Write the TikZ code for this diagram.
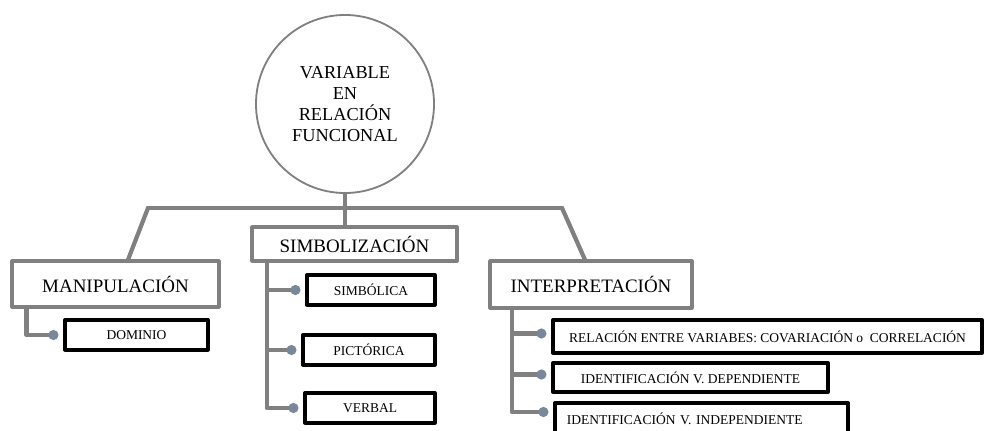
\documentclass[tikz,border=0pt]{standalone}
\usepackage{fontspec}
\setmainfont{Liberation Serif}
\usepackage{tikz}
\usetikzlibrary{arrows.meta,calc}
\definecolor{wqwqwq}{rgb}{0.5,0.5,0.5}
\definecolor{azgris}{rgb}{0.47,0.53,0.6}
\begin{document}
\begin{tikzpicture}[line cap=round,line join=round,x=0.025cm,y=-0.025cm,
	raiz/.style={circle,draw=wqwqwq,line width=1.3pt,minimum size=4.45cm,align=center,inner sep=0pt,font=\fontsize{13}{15}\selectfont},
	grupo/.style={rectangle,draw=wqwqwq,line width=2.2pt,fill=white,inner sep=0pt,font=\fontsize{13.5}{16}\selectfont},
	hoja/.style={rectangle,draw=black,line width=2.3pt,fill=white,inner sep=0pt,minimum height=0.75cm,font=\fontsize{9.6}{11}\selectfont},
	rama/.style={draw=wqwqwq,line width=3pt},
	punto/.style={rama,-{Circle[length=7pt,color=azgris]}}]
		\useasboundingbox (0,0) rectangle (984,431);
		% circulo central y grupos
		\node[raiz] (var) at (345,104) {VARIABLE\\EN\\RELACIÓN\\FUNCIONAL};
		\node[grupo,minimum width=5.175cm,minimum height=1.15cm] (manip) at (115.5,284) {MANIPULACIÓN};
		\node[grupo,minimum width=5.125cm,minimum height=0.85cm] (simb) at (354.5,244) {SIMBOLIZACIÓN};
		\node[grupo,minimum width=5.05cm,minimum height=1.175cm] (interp) at (591,284.5) {INTERPRETACIÓN};
		% hojas
		\node[hoja,minimum width=3.575cm] (dom) at (136.5,335) {DOMINIO};
		\node[hoja,minimum width=3.2cm] (simbol) at (371,290) {SIMBÓLICA};
		\node[hoja,minimum width=3.3cm] (pict) at (369,350) {PICTÓRICA};
		\node[hoja,minimum width=3.25cm] (verb) at (370,408) {VERBAL};
		\node[hoja,minimum width=10.725cm,minimum height=0.825cm] (rel) at (767.5,336.5) {RELACIÓN ENTRE VARIABES: COVARIACIÓN o\ \ CORRELACIÓN};
		\node[hoja,minimum width=6.875cm,minimum height=0.725cm] (dep) at (690.5,377.5) {IDENTIFICACIÓN V. DEPENDIENTE};
		\node[hoja,text width=6.725cm,inner xsep=0.3cm,minimum height=0.8cm,align=left] (indep) at (701.5,419) {IDENTIFICACIÓN V. INDEPENDIENTE};
		% conectores
		\coordinate (barL) at (148,208);
		\coordinate (barR) at (562,208);
		\draw[rama] (var.south) -- (var.south |- simb.north);
		\draw[rama] (barL) -- (barR);
		\draw[rama] (barL) -- ($(manip.north west)!0.56!(manip.north east)$);
		\draw[rama] (barR) -- ($(interp.north west)!0.47!(interp.north east)$);
		\draw[punto] ($(manip.south west)!0.077!(manip.south east)$) |- ($(dom.west)+(-5,0)$);
		\coordinate (tS) at ($(simb.south west)!0.078!(simb.south east)$);
		\foreach \h in {simbol,pict,verb}
			\draw[punto] (tS) |- ($(\h.west)+(-5,0)$);
		\coordinate (tI) at ($(interp.south west)!0.114!(interp.south east)$);
		\foreach \h in {rel,dep}
			\draw[punto] (tI) |- ($(\h.west)+(-5,-3)$);
		\draw[punto] (tI) |- ($(indep.west)+(-5,-7)$);
\end{tikzpicture}
\end{document}
